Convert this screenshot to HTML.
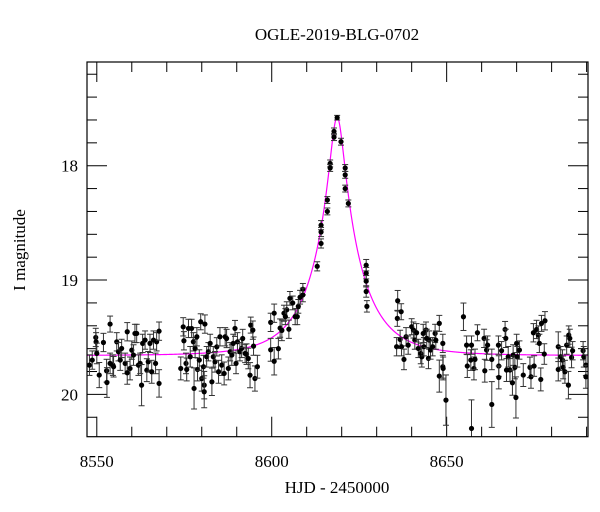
<!DOCTYPE html>
<html><head><meta charset="utf-8">
<style>
html,body{margin:0;padding:0;background:#fff;}
svg{display:block;}
text{font-family:"Liberation Serif","DejaVu Serif",serif;fill:#000;}
</style></head>
<body>
<svg id="chart" width="600" height="512" viewBox="0 0 600 512">
  <defs><clipPath id="clip"><rect x="87" y="62" width="501" height="374.7"/></clipPath></defs>
  <text x="337" y="40" text-anchor="middle" font-size="17">OGLE-2019-BLG-0702</text>
  <text x="337" y="493" text-anchor="middle" font-size="17">HJD - 2450000</text>
  <text transform="translate(25,250) rotate(-90)" text-anchor="middle" font-size="17">I magnitude</text>
  <g id="axes"></g>
  <g id="model" clip-path="url(#clip)"></g>
  <g id="points" clip-path="url(#clip)"></g>
  <rect x="87" y="62" width="501" height="374.7" fill="none" stroke="#000" stroke-width="1.2"/>
</svg>
<script>
const times = [
8618.7,8617.8,8617.8,8619.8,8616.7,8616.7,8621.0,8621.0,8621.0,8621.9,8615.9,8615.9,8614.1,8614.1,8614.1,8613.0,8627.0,8627.0,8627.0,8627.0,8627.2,
8599.7,8599.7,8600.7,8600.7,8601.9,8602.4,8602.9,8603.5,8604.3,8605.2,8606.0,8606.7,8607.3,8607.6,8608.1,8608.9,8608.9,8604.9,8603.9,
8547.9,8548.7,8549.7,8549.8,8550.0,8550.7,8551.9,8552.8,8552.9,8553.8,8553.8,8554.6,8554.8,8555.7,8556.2,8556.7,8557.1,8558.1,8558.7,8558.7,8559.5,8560.0,8560.5,8560.9,8561.4,8561.9,8562.4,8562.8,8563.1,8563.8,8564.3,8564.7,8565.2,8565.7,8566.2,8566.8,8567.1,8567.8,8567.8,
8574.0,8574.7,8574.9,8575.5,8575.7,8576.2,8576.7,8577.1,8577.6,8577.8,8578.1,8578.6,8578.8,8579.3,8579.7,8580.0,8580.5,8580.7,8580.7,8580.9,8581.4,8581.9,8582.4,8582.9,8583.3,8583.8,8584.3,8584.8,8585.2,8585.7,8586.4,8586.7,8587.1,8587.6,8588.1,8588.6,8589.0,8589.5,8589.8,8590.2,8590.9,8591.4,8591.7,8592.4,8592.8,8593.3,8593.8,8594.0,8594.6,8594.8,8595.2,8595.9,
8636.0,8635.9,8637.0,8635.7,8636.7,8637.1,8637.8,8638.4,8639.0,8640.0,8640.5,8640.9,8641.4,8641.9,8642.6,8642.9,8643.3,8643.5,8644.1,8644.3,8644.8,8645.0,8645.4,8646.0,8646.7,8646.9,8647.9,8647.9,8648.9,8648.9,8649.0,8649.8,
8654.8,8655.7,8655.9,8656.9,8657.1,8657.1,8657.8,8658.1,8658.8,8660.7,8660.9,8661.4,8661.7,8662.9,8662.9,8664.8,8664.9,8664.9,8665.7,8666.7,8666.9,8667.1,8667.6,8668.1,8668.8,8669.0,8669.5,8669.8,8670.0,8670.2,8670.8,8671.9,8673.8,8674.1,8674.8,8675.0,8675.7,8676.2,8676.5,8676.9,8677.1,8677.9,8678.1,
8681.9,8681.9,8682.6,8683.1,8683.3,8683.8,8684.3,8684.8,8684.9,8685.2,8685.7,8686.0,8689.0,8689.2,8689.8,8689.8];
const mags = [
17.58,17.70,17.75,17.79,17.98,18.02,18.02,18.08,18.20,18.33,18.30,18.40,18.52,18.58,18.68,18.88,18.87,18.94,19.01,19.10,19.23,
19.37,19.61,19.71,19.29,19.60,19.42,19.44,19.29,19.26,19.16,19.20,19.32,19.32,19.23,19.15,19.08,19.13,19.43,19.32,
19.744,19.700,19.502,19.540,19.642,19.831,19.546,19.793,19.896,19.385,19.729,19.744,19.758,19.540,19.627,19.700,19.598,19.729,19.452,19.811,19.773,19.613,19.656,19.467,19.467,19.744,19.729,19.919,19.554,19.525,19.788,19.715,19.554,19.802,19.525,19.729,19.540,19.447,19.904,
19.773,19.409,19.531,19.729,19.782,19.423,19.671,19.423,19.540,19.948,19.598,19.496,19.782,19.700,19.365,19.861,19.758,19.919,19.977,19.385,19.671,19.627,19.554,19.890,19.671,19.715,19.584,19.802,19.496,19.744,19.817,19.496,19.511,19.773,19.627,19.656,19.554,19.423,19.729,19.540,19.627,19.598,19.511,19.642,19.648,19.686,19.832,19.394,19.438,19.578,19.861,19.758,
19.181,19.335,19.277,19.583,19.519,19.583,19.694,19.496,19.569,19.408,19.437,19.525,19.461,19.598,19.642,19.671,19.467,19.583,19.437,19.510,19.685,19.525,19.612,19.583,19.467,19.525,19.379,19.840,19.554,19.758,19.773,20.050,
19.321,19.569,19.752,19.700,20.298,19.569,19.773,19.694,19.461,19.510,19.793,19.612,19.569,19.694,20.088,19.569,19.752,19.852,19.618,19.432,19.510,19.787,19.671,19.787,19.898,19.656,19.764,20.027,19.554,19.671,19.612,19.831,19.764,19.846,19.461,19.752,19.432,19.481,19.554,19.869,19.379,19.647,19.356,
19.583,19.782,19.671,19.700,19.764,19.802,19.569,19.919,19.481,19.510,19.677,19.618,19.618,19.671,19.744,19.846];
const errs = [
0.02,0.03,0.03,0.03,0.03,0.03,0.03,0.03,0.03,0.03,0.03,0.03,0.04,0.04,0.04,0.04,0.05,0.05,0.05,0.05,0.05,
0.08,0.10,0.12,0.08,0.09,0.08,0.09,0.07,0.07,0.06,0.06,0.07,0.07,0.06,0.06,0.05,0.06,0.08,0.07,
0.09,0.08,0.08,0.08,0.09,0.11,0.08,0.10,0.13,0.07,0.09,0.09,0.09,0.08,0.08,0.09,0.08,0.09,0.08,0.10,0.10,0.08,0.09,0.08,0.08,0.09,0.09,0.18,0.08,0.08,0.10,0.09,0.08,0.10,0.08,0.09,0.08,0.08,0.12,
0.10,0.08,0.08,0.09,0.10,0.08,0.09,0.08,0.08,0.18,0.08,0.08,0.10,0.09,0.07,0.11,0.10,0.12,0.14,0.08,0.09,0.08,0.08,0.12,0.09,0.09,0.08,0.10,0.08,0.09,0.10,0.08,0.08,0.10,0.08,0.09,0.08,0.07,0.09,0.08,0.08,0.08,0.08,0.08,0.09,0.09,0.11,0.07,0.08,0.08,0.11,0.10,
0.09,0.07,0.07,0.08,0.08,0.08,0.09,0.08,0.08,0.07,0.07,0.08,0.08,0.08,0.09,0.09,0.08,0.08,0.07,0.08,0.09,0.08,0.08,0.08,0.08,0.08,0.07,0.14,0.08,0.10,0.10,0.22,
0.12,0.08,0.10,0.09,0.25,0.08,0.10,0.09,0.07,0.08,0.10,0.09,0.08,0.09,0.20,0.08,0.09,0.10,0.08,0.07,0.08,0.10,0.09,0.10,0.11,0.09,0.10,0.18,0.08,0.09,0.08,0.10,0.09,0.10,0.08,0.09,0.08,0.08,0.08,0.10,0.07,0.09,0.08,
0.13,0.10,0.09,0.09,0.10,0.10,0.08,0.12,0.08,0.08,0.09,0.08,0.08,0.09,0.09,0.10];
// microlensing model parameters (Paczynski)
const modelT0 = [8618.7];
const modelU0 = [0.148];
const modelTE = [13.3];
const modelBase = [19.66];
const xTickLabels = [8550, 8600, 8650];
const yTickLabels = [18, 19, 20];

const NS = "http://www.w3.org/2000/svg";
const L = 87, R = 588, T = 62, B = 436.7;
const xMin = 8547.2, xMax = 8690.4, yMin = 17.093, yMax = 20.37;
const sx = t => L + (t - xMin) / (xMax - xMin) * (R - L);
const sy = m => T + (m - yMin) / (yMax - yMin) * (B - T);
function mk(tag, attrs, parent){ const e = document.createElementNS(NS, tag); for (const k in attrs) e.setAttribute(k, attrs[k]); parent.appendChild(e); return e; }

const axes = document.getElementById('axes');
// x ticks every 10, major every 50
for (let v = 8550; v <= 8690; v += 10) {
  const x = sx(v), len = (v % 50 === 0) ? 20 : 10;
  const t1 = mk('line', {x1:x, x2:x, y1:B, y2:B-len, stroke:'#000', 'stroke-width':1}, axes);
  
  
  const t2 = mk('line', {x1:x, x2:x, y1:T, y2:T+len, stroke:'#000', 'stroke-width':1}, axes);
  
  
}
xTickLabels.forEach(v => {
  const tx = mk('text', {x:sx(v), y:467, 'text-anchor':'middle', 'font-size':17}, axes);
  tx.textContent = v;
  
  
});
// y ticks every 0.2, major every 1
for (let k = 86; k <= 101; k++) {
  const v = k / 5;
  const y = sy(v);
  if (y < T || y > B) continue;
  const len = (k % 5 === 0) ? 20 : 10;
  const a = mk('line', {x1:L, x2:L+len, y1:y, y2:y, stroke:'#000', 'stroke-width':1}, axes);
  
  
  const b = mk('line', {x1:R, x2:R-len, y1:y, y2:y, stroke:'#000', 'stroke-width':1}, axes);
  
  
}
yTickLabels.forEach(v => {
  const ty = mk('text', {x:78, y:sy(v)+6, 'text-anchor':'end', 'font-size':17}, axes);
  ty.textContent = v;
  
  
});

// model curve
const model = document.getElementById('model');
let d = '';
for (let t = xMin; t <= xMax; t += 0.1) {
  const tau = (t - modelT0[0]) / modelTE[0];
  const u = Math.sqrt(modelU0[0]*modelU0[0] + tau*tau);
  const A = (u*u + 2) / (u * Math.sqrt(u*u + 4));
  const m = modelBase[0] - 2.5 * Math.log10(A);
  d += (d ? 'L' : 'M') + sx(t).toFixed(2) + ',' + sy(m).toFixed(2);
}
const mp = mk('path', {d:d, fill:'none', stroke:'#ff00ff', 'stroke-width':1.2}, model);



// data points with error bars
const pts = document.getElementById('points');
times.forEach((t, i) => {
  const x = sx(t), y = sy(mags[i]), y1 = sy(mags[i] - errs[i]), y2 = sy(mags[i] + errs[i]);
  const g = mk('g', {}, pts);
  
  
  mk('line', {x1:x, x2:x, y1:y1, y2:y2, stroke:'#333', 'stroke-width':1}, g);
  mk('line', {x1:x-3, x2:x+3, y1:y1, y2:y1, stroke:'#333', 'stroke-width':1}, g);
  mk('line', {x1:x-3, x2:x+3, y1:y2, y2:y2, stroke:'#333', 'stroke-width':1}, g);
  mk('circle', {cx:x, cy:y, r:2.6, fill:'#000'}, g);
});
</script>
</body></html>
